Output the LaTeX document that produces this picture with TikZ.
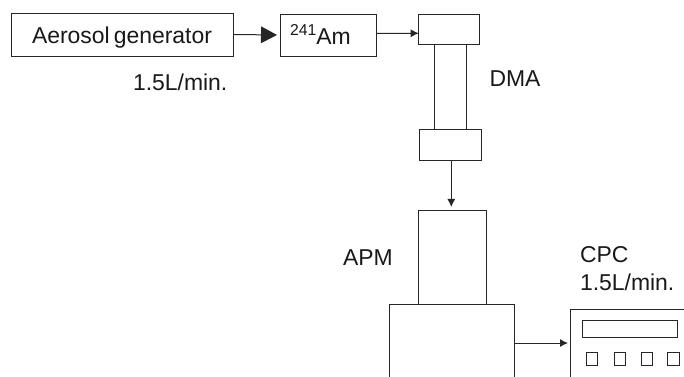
\documentclass[tikz,border=0pt]{standalone}
\usepackage{fontspec}
\setmainfont{Liberation Sans}
\usetikzlibrary{arrows.meta}
\tikzset{
  x=0.75pt,y=-0.75pt,
  box/.style={draw=black!85,line width=0.75pt,inner sep=0pt,outer sep=0pt,anchor=north west,fill=white},
  lbl/.style={inner sep=0pt,outer sep=0pt,font=\fontsize{17.2}{20}\selectfont,text=black!90,anchor=base west},
  smallarrow/.style={draw=black!85,line width=0.75pt,-{Latex[length=6pt,width=6pt]}},
  bigarrow/.style={draw=black!85,line width=0.75pt,-{Triangle[length=12pt,width=12.5pt]}}
}
\newcommand{\bx}[5]{\node[box,minimum width=#4*0.75pt,minimum height=#5*0.75pt] (#1) at (#2,#3) {};}
\begin{document}
\begin{tikzpicture}
\useasboundingbox (0,0) rectangle (684,376);
\clip (0,0) rectangle (684,376);
\bx{gen}{11.5}{13}{222}{43}
\bx{am}{280}{14}{96}{42}
\bx{tube}{434.3}{44.5}{31.7}{84.5}
\bx{dmatop}{418.7}{14}{60.6}{30.5}
\bx{dmabot}{419.7}{129}{61.6}{31}
\bx{lower}{389.7}{304.7}{124.6}{120}
\bx{apm}{418.7}{210.3}{67.6}{94.4}
\bx{cpc}{570}{309}{160}{120}
\bx{screen}{582.7}{320.3}{95}{16.7}
\bx{ka}{586.7}{352.3}{11}{12.7}
\bx{kb}{614.3}{352.3}{11.4}{12.7}
\bx{kc}{641.3}{352.3}{11.4}{12.7}
\bx{kd}{667.7}{352.3}{11.6}{12.7}
\node[lbl] (tgen) at (32,43) {Aerosol\hspace{-0.1em} generator};
\node[lbl] (tam) at (290,44) {\raisebox{0.35em}{\fontsize{11.8}{14}\selectfont 241}Am};
\node[lbl] (tflow) at (133,90) {1.5L/min.};
\node[lbl] (tdma) at (489.5,86.7) {DMA};
\node[lbl] (tapm) at (343,265.7) {APM};
\node[lbl] (tcpc) at (580,262.7) {CPC};
\node[lbl] (tflowb) at (580,290.7) {1.5L/min.};
\draw[bigarrow,shorten >=2.25pt] (gen.east) -- (am.west);
\draw[smallarrow] ([yshift=1.2pt]am.east) -- ([yshift=-3pt]dmatop.west);
\draw[smallarrow,shorten >=2.5pt] ([xshift=0.6pt]dmabot.south) -- ([xshift=0.6pt]dmabot.south |- apm.north);
\draw[smallarrow,shorten >=1.5pt] (lower.east |- 0,343) coordinate (lo) -- (cpc.west |- lo);
\end{tikzpicture}
\end{document}
